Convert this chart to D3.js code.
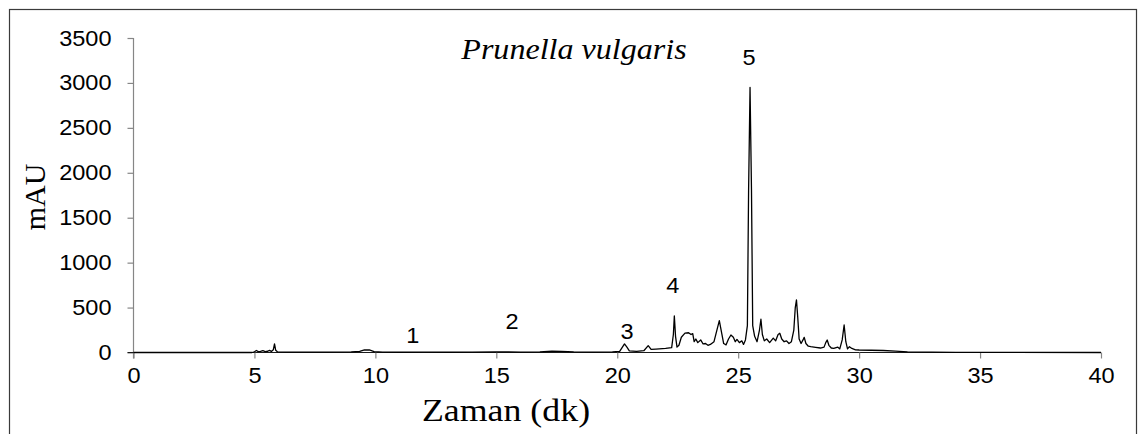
<!DOCTYPE html>
<html>
<head>
<meta charset="utf-8">
<script src="https://cdn.jsdelivr.net/npm/d3@7"></script>
<style>
  html, body { margin: 0; padding: 0; background: #fff; }
  svg { display: block; }
</style>
</head>
<body>
<script>
// HPLC chromatogram of Prunella vulgaris extract (absorbance vs. retention time)
const retentionTime = [
  0, 4.9, 5.0, 5.08, 5.16, 5.25, 5.35, 5.45, 5.55, 5.62, 5.7, 5.78, 5.83, 5.88, 5.95,
  6.3, 7.0, 8.0, 9.0, 9.35, 9.55, 9.75, 9.95, 10.3, 11.0, 12.0, 13.0, 14.0, 15.0, 15.5,
  16.0, 16.8, 17.3, 17.7, 18.2, 19.0, 19.8, 20.1, 20.3, 20.4, 20.5, 20.8, 21.1, 21.28, 21.4,
  21.6, 22.0, 22.25, 22.32, 22.36, 22.41, 22.47, 22.55, 22.65, 22.8, 22.95, 23.05, 23.12, 23.18, 23.25,
  23.33, 23.45, 23.55, 23.65, 23.75, 23.85, 24.0, 24.12, 24.22, 24.3, 24.4, 24.5, 24.6, 24.7, 24.8,
  24.88, 24.95, 25.05, 25.15, 25.22, 25.3, 25.38, 25.43, 25.49, 25.55, 25.6, 25.68, 25.78, 25.88, 25.94,
  26.0, 26.08, 26.18, 26.3, 26.45, 26.55, 26.65, 26.72, 26.8, 26.9, 27.0, 27.1, 27.2, 27.3, 27.36,
  27.41, 27.46, 27.52, 27.6, 27.68, 27.73, 27.8, 27.9, 28.0, 28.2, 28.4, 28.55, 28.62, 28.68, 28.75,
  28.85, 28.95, 29.05, 29.12, 29.2, 29.3, 29.38, 29.45, 29.52, 29.6, 29.7, 29.85, 30.0, 30.5, 31.0,
  31.5, 32.0, 33.0, 34.0, 35.0, 40.0
];
const absorbance = [
  0, 0, 8, 22, 10, 12, 20, 10, 14, 24, 12, 30, 95, 25, 8,
  5, 4, 4, 6, 12, 30, 28, 10, 4, 3, 5, 3, 4, 8, 6,
  5, 6, 14, 12, 6, 5, 7, 12, 95, 60, 18, 12, 20, 76, 35,
  38, 45, 55, 200, 406, 180, 60, 80, 170, 215, 220, 200, 210, 120, 150,
  110, 140, 95, 100, 80, 90, 120, 250, 354, 240, 100, 85, 150, 195, 170,
  120, 145, 110, 130, 90, 140, 300, 1800, 2950, 1800, 300, 180, 120, 250, 370,
  200, 130, 150, 110, 160, 130, 200, 214, 150, 120, 130, 100, 120, 250, 500,
  585, 400, 150, 100, 140, 169, 100, 70, 65, 58, 50, 60, 110, 139, 80,
  50, 45, 55, 60, 40, 140, 306, 120, 40, 65, 45, 30, 28, 25, 22,
  15, 8, 4, 2, 1, 0
];

// Numbered peaks and where their numbers sit (minutes, mAU)
const peakNumbers = ["1", "2", "3", "4", "5"];
const peakLabelTime = [11.55, 15.65, 20.4, 22.3, 25.45];
const peakLabelLevel = [195, 350, 240, 750, 3290];

const xTicks = [0, 5, 10, 15, 20, 25, 30, 35, 40];
const yTicks = [0, 500, 1000, 1500, 2000, 2500, 3000, 3500];

const titleText = "Prunella vulgaris";
const xTitle = "Zaman (dk)";
const yTitle = "mAU";

const W = 1141, H = 434;
const plot = { left: 133.5, right: 1101, top: 38, bottom: 352.5 };
const stretch = 1.07; // lettering is drawn slightly wide

const svg = d3.select("body").append("svg")
  .attr("width", W).attr("height", H);

// outer frame
svg.append("rect")
  .attr("x", 9.5).attr("y", 9.5)
  .attr("width", 1127).attr("height", 460)
  .attr("fill", "none").attr("stroke", "#3a3a3a").attr("stroke-width", 1.2);

const x = d3.scaleLinear().domain([0, 40]).range([plot.left, plot.right]);
const y = d3.scaleLinear().domain([0, 3500]).range([plot.bottom, plot.top]);

const sans = "'Liberation Sans', Arial, sans-serif";
const serif = "'Liberation Serif', 'Times New Roman', serif";

// y axis
const yAxis = svg.append("g")
  .attr("transform", `translate(${plot.left},0)`)
  .call(d3.axisLeft(y).tickValues(yTicks).tickSize(6).tickPadding(0).tickFormat(d3.format("d")));
yAxis.select(".domain").attr("stroke", "#868686").attr("stroke-width", 1.2)
  .attr("d", `M0,${plot.top}V${plot.bottom + 6}`);
yAxis.selectAll(".tick line").attr("stroke", "#868686").attr("stroke-width", 1.2);
yAxis.selectAll(".tick text")
  .attr("x", null)
  .attr("transform", `translate(-22,0) scale(${stretch},1)`)
  .attr("font-family", sans).attr("font-size", 22).attr("fill", "#000");

// x axis
const xAxis = svg.append("g")
  .attr("transform", `translate(0,${plot.bottom})`)
  .call(d3.axisBottom(x).tickValues(xTicks).tickSize(6).tickPadding(0).tickFormat(d3.format("d")));
xAxis.select(".domain").attr("stroke", "#1a1a1a").attr("stroke-width", 1.2)
  .attr("d", `M${plot.left - 6},0H${plot.right}`);
xAxis.selectAll(".tick line").attr("stroke", "#868686").attr("stroke-width", 1.2);
xAxis.selectAll(".tick text")
  .attr("y", null).attr("dy", null)
  .attr("transform", `translate(0,30) scale(${stretch},1)`)
  .attr("font-family", sans).attr("font-size", 22).attr("fill", "#000");

// chromatogram trace
const trace = d3.zip(retentionTime, absorbance);
svg.append("path")
  .datum(trace)
  .attr("fill", "none")
  .attr("stroke", "#000")
  .attr("stroke-width", 1.3)
  .attr("stroke-linejoin", "round")
  .attr("d", d3.line().x(d => x(d[0])).y(d => y(d[1])));

// peak numbers
svg.append("g").selectAll("text")
  .data(peakNumbers)
  .join("text")
  .attr("transform", (d, i) => `translate(${x(peakLabelTime[i])},${y(peakLabelLevel[i])}) scale(${stretch},1)`)
  .attr("dy", "0.35em")
  .attr("text-anchor", "middle")
  .attr("font-family", sans).attr("font-size", 22)
  .text(d => d);

// titles
svg.append("text")
  .attr("transform", `translate(574,59) scale(${stretch},1)`)
  .attr("text-anchor", "middle")
  .attr("font-family", serif).attr("font-style", "italic").attr("font-size", 30)
  .text(titleText);

svg.append("text")
  .attr("transform", `translate(506,421) scale(1.12,1)`)
  .attr("text-anchor", "middle")
  .attr("font-family", serif).attr("font-size", 32)
  .text(xTitle);

svg.append("text")
  .attr("transform", "translate(45,197) rotate(-90)")
  .attr("text-anchor", "middle")
  .attr("font-family", serif).attr("font-size", 30)
  .text(yTitle);
</script>
</body>
</html>
